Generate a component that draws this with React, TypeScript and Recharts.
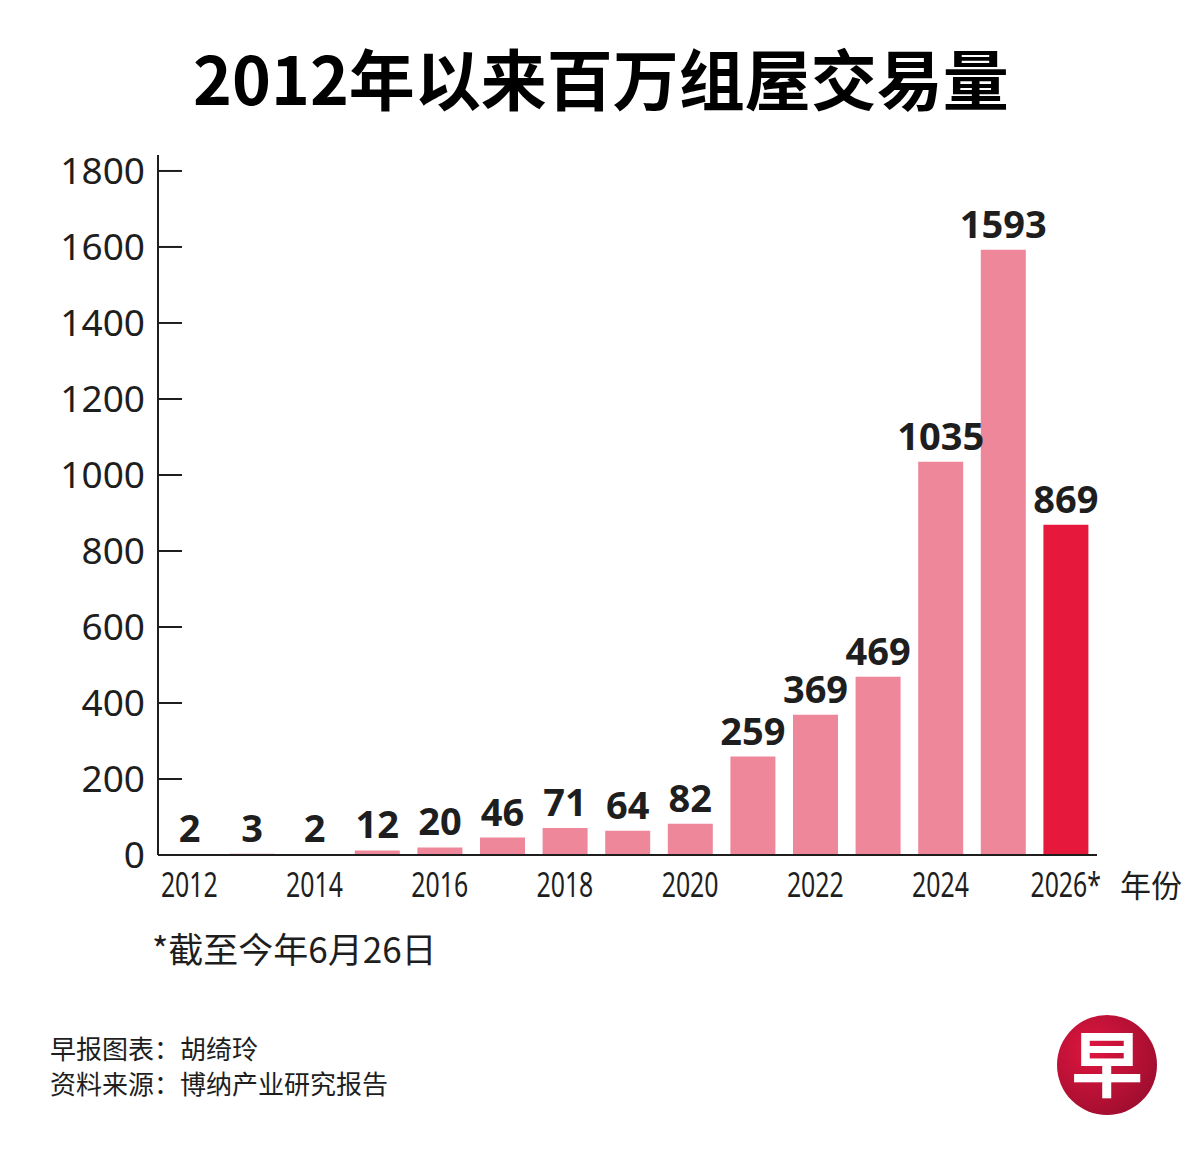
import { BarChart, Bar, Cell, XAxis, YAxis, LabelList } from "recharts";

const years = ["2012", "2013", "2014", "2015", "2016", "2017", "2018", "2019", "2020", "2021", "2022", "2023", "2024", "2025", "2026"];
const deals = [2, 3, 2, 12, 20, 46, 71, 64, 82, 259, 369, 469, 1035, 1593, 869];
const yTicks = [0, 200, 400, 600, 800, 1000, 1200, 1400, 1600, 1800];
const xLabels: Record<string, string> = {
  "2012": "2012",
  "2014": "2014",
  "2016": "2016",
  "2018": "2018",
  "2020": "2020",
  "2022": "2022",
  "2024": "2024",
  "2026": "2026*",
};

const data = years.map((year, i) => ({ year, deals: deals[i] }));

const PINK = "#ee879a";
const RED = "#e6193d";
const INK = "#1e1e1e";

const YTick = (props: any) => {
  const { y, payload } = props;
  return (
    <g>
      <text x={145} y={y} dy={13} textAnchor="end" fontSize={37} fontFamily="Noto Sans" fill={INK}>
        {payload.value}
      </text>
      <line x1={158} x2={182} y1={y} y2={y} stroke={INK} strokeWidth={2} />
    </g>
  );
};

const XTick = (props: any) => {
  const { x, payload } = props;
  const label = xLabels[payload.value];
  if (!label) return null;
  return (
    <text
      transform={`translate(${x},897) scale(0.71,1)`}
      textAnchor="middle"
      fontSize={35}
      fontFamily="Noto Sans"
      fill={INK}
    >
      {label}
    </text>
  );
};

const App = () => {
  return (
    <div style={{ position: "absolute", left: 0, top: 0, width: 1200, height: 1153, background: "#fff" }}>
      <BarChart
        width={1200}
        height={1153}
        data={data}
        margin={{ top: 155, right: 103, bottom: 238, left: 0 }}
      >
        <XAxis
          dataKey="year"
          interval={0}
          tickLine={false}
          axisLine={{ stroke: INK, strokeWidth: 2 }}
          tick={<XTick />}
          height={60}
        />
        <YAxis
          width={158}
          domain={[0, 1842]}
          ticks={yTicks}
          tickLine={false}
          axisLine={{ stroke: INK, strokeWidth: 2 }}
          tick={<YTick />}
        />
        <Bar dataKey="deals" barSize={45} isAnimationActive={false}>
          {data.map((d, i) => (
            <Cell key={d.year} fill={i === data.length - 1 ? RED : PINK} />
          ))}
          <LabelList
            dataKey="deals"
            position="top"
            offset={12}
            fontSize={38}
            fontWeight={700}
            fontFamily="Noto Sans"
            fill={INK}
          />
        </Bar>
      </BarChart>
      <svg
        width={1200}
        height={1153}
        style={{ position: "absolute", left: 0, top: 0, pointerEvents: "none" }}
      >
        <defs>
          <radialGradient id="logo" cx="35%" cy="35%" r="75%">
            <stop offset="0%" stopColor="#e0163f" />
            <stop offset="100%" stopColor="#9c0d2e" />
          </radialGradient>
        </defs>
        <text
          x={601}
          y={105}
          textAnchor="middle"
          fontSize={66}
          fontWeight={700}
          fontFamily="Noto Sans CJK SC"
          fill="#000"
        >
          2012年以来百万组屋交易量
        </text>
        <text x={1120} y={897} fontSize={31} fontFamily="Noto Sans CJK SC" fill={INK}>
          年份
        </text>
        <text x={152} y={963} fontSize={35} fontFamily="Noto Sans CJK SC" fill={INK}>
          *截至今年6月26日
        </text>
        <text x={50} y={1059} fontSize={26} fontFamily="Noto Sans CJK SC" fill={INK}>
          早报图表：胡绮玲
        </text>
        <text x={50} y={1094} fontSize={26} fontFamily="Noto Sans CJK SC" fill={INK}>
          资料来源：博纳产业研究报告
        </text>
        <circle cx={1107} cy={1065} r={50} fill="url(#logo)" />
        <text
          x={1107}
          y={1091}
          textAnchor="middle"
          fontSize={72}
          fontWeight={700}
          fontFamily="Noto Sans CJK SC"
          fill="#fff"
        >
          早
        </text>
      </svg>
    </div>
  );
};

export default App;
